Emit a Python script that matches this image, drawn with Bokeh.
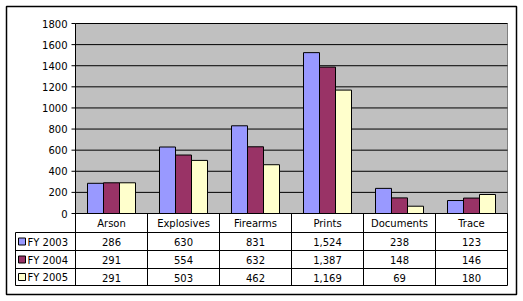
from bokeh.plotting import figure
from bokeh.models import Range1d
from bokeh.embed import file_html
from bokeh.resources import INLINE
from bokeh.core.properties import value

categories = ["Arson", "Explosives", "Firearms", "Prints", "Documents", "Trace"]
series_names = ["FY 2003", "FY 2004", "FY 2005"]
fy2003 = [286, 630, 831, 1524, 238, 123]
fy2004 = [291, 554, 632, 1387, 148, 146]
fy2005 = [291, 503, 462, 1169, 69, 180]
y_ticks = [0, 200, 400, 600, 800, 1000, 1200, 1400, 1600, 1800]
colors = ["#9999FF", "#993366", "#FFFFCC"]
series = [fy2003, fy2004, fy2005]

W, H = 523, 301
# layout (pixels)
PL, COLW = 75, 72          # plot left, column width
PT, PB = 23, 213           # plot top (1800), plot bottom (0)
YMAX = 1800
S = YMAX / (PB - PT)
ROWS = [213, 232, 250, 268, 285]
TL = 15                    # table left
FONT = value("DejaVu Sans")
FS = "10px"

def px(x):
    return (x - PL) / COLW

def py(y):
    return (PB - y) * S

p = figure(width=W, height=H, x_range=Range1d(px(0), px(W)), y_range=Range1d(py(H), py(0)),
           min_border=0, toolbar_location=None, output_backend="svg",
           x_axis_location=None, y_axis_location=None)
p.grid.visible = False
p.outline_line_color = None
p.background_fill_color = "white"
p.border_fill_color = "white"

n = len(categories)
# outer border
p.quad(left=px(6), right=px(516), bottom=py(294), top=py(6), fill_color=None,
       line_color="black", line_width=1.5)
# plot area
p.quad(left=0, right=n, bottom=0, top=YMAX, fill_color="#C0C0C0", line_color=None)
p.segment(x0=[0, n], y0=[YMAX, YMAX], x1=[n, n], y1=[YMAX, 0], line_color="#808080", line_width=1)
# gridlines
p.segment(x0=[0] * len(y_ticks), y0=y_ticks, x1=[n] * len(y_ticks), y1=y_ticks,
          line_color="black", line_width=1)
# ticks
p.segment(x0=[px(PL - 4)] * len(y_ticks), y0=y_ticks, x1=[0] * len(y_ticks), y1=y_ticks,
          line_color="black", line_width=1)
p.text(x=[px(PL - 8)] * len(y_ticks), y=y_ticks, text=[str(t) for t in y_ticks],
       text_align="right", text_baseline="middle", text_font=FONT, text_font_size=FS,
       text_color="black")

# bars
bw = 16 / COLW
off = 12 / COLW
for j, vals in enumerate(series):
    lefts = [i + off + j * bw for i in range(n)]
    p.quad(left=lefts, right=[l + bw for l in lefts], bottom=0, top=vals,
           fill_color=colors[j], line_color="black", line_width=1)

# table lines
p.segment(x0=0, y0=py(ROWS[0]), x1=n, y1=py(ROWS[0]), line_color="black", line_width=1)
for r in ROWS[1:]:
    p.segment(x0=px(TL), y0=py(r), x1=n, y1=py(r), line_color="black", line_width=1)
p.segment(x0=list(range(n + 1)), y0=[YMAX] + [py(ROWS[0])] * n, x1=list(range(n + 1)),
          y1=[py(ROWS[-1])] * (n + 1), line_color="black", line_width=1)
p.segment(x0=px(TL), y0=py(ROWS[1]), x1=px(TL), y1=py(ROWS[-1]), line_color="black", line_width=1)

# header
mid0 = py((ROWS[0] + ROWS[1]) / 2 + 0.5)
p.text(x=[i + 0.5 for i in range(n)], y=[mid0] * n, text=categories, text_align="center",
       text_baseline="middle", text_font=FONT, text_font_size=FS, text_color="black")
# rows
for j, vals in enumerate(series):
    ym = py((ROWS[j + 1] + ROWS[j + 2]) / 2 + 0.5)
    p.text(x=[i + 0.5 for i in range(n)], y=[ym] * n, text=[f"{v:,}" for v in vals],
           text_align="center", text_baseline="middle", text_font=FONT, text_font_size=FS,
           text_color="black")
    yc = (ROWS[j + 1] + ROWS[j + 2]) / 2
    p.quad(left=px(18), right=px(25), bottom=py(yc + 3.5), top=py(yc - 3.5),
           fill_color=colors[j], line_color="black", line_width=1)
    p.text(x=[px(27)], y=[ym], text=[series_names[j]], text_align="left",
           text_baseline="middle", text_font=FONT, text_font_size=FS, text_color="black")

open("out.html", "w").write(file_html(p, INLINE))
